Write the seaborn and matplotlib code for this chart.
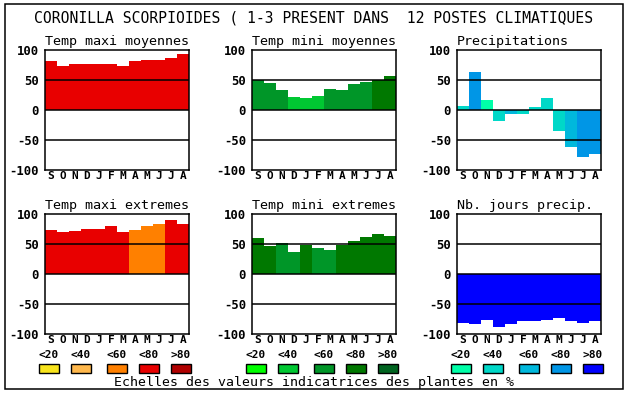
import numpy as np
import pandas as pd
import matplotlib
matplotlib.use("Agg")
import matplotlib.pyplot as plt
import seaborn as sns
from matplotlib.patches import Rectangle

# --- data ---
months = ["S", "O", "N", "D", "J", "F", "M", "A", "M", "J", "J", "A"]
class_labels = ["<20", "<40", "<60", "<80", ">80"]

reds = ["#f8e41c", "#ffb84c", "#ff8000", "#e80000", "#b00000"]
greens = ["#00ff00", "#00c832", "#009628", "#007800", "#006420"]
blues = ["#00ffa8", "#00d8c8", "#00b8dc", "#0096e6", "#0000ff"]

tmax_moy = [81, 74, 76, 76, 77, 76, 74, 81, 84, 84, 86, 93]
tmax_moy_cls = [3, 3, 3, 3, 3, 3, 3, 3, 3, 3, 3, 3]

tmin_moy = [50, 45, 34, 22, 20, 24, 35, 34, 44, 47, 50, 56]
tmin_moy_cls = [2, 2, 2, 1, 1, 1, 2, 2, 2, 2, 3, 3]

precip = [7, 64, 17, -18, -6, -6, 5, 20, -35, -62, -79, -74]
precip_cls = [1, 3, 0, 1, 2, 1, 1, 1, 1, 2, 3, 3]

tmax_ext = [74, 70, 72, 75, 75, 80, 70, 74, 80, 84, 90, 84]
tmax_ext_cls = [3, 3, 3, 3, 3, 3, 3, 2, 2, 2, 3, 3]

tmin_ext = [60, 47, 52, 37, 49, 44, 40, 49, 55, 62, 67, 64]
tmin_ext_cls = [3, 3, 2, 2, 3, 2, 2, 3, 3, 3, 3, 3]

jours = [-81, -83, -76, -88, -83, -78, -78, -76, -73, -78, -81, -78]
jours_cls = [4, 4, 4, 4, 4, 4, 4, 4, 4, 4, 4, 4]

title = "CORONILLA SCORPIOIDES ( 1-3 PRESENT DANS  12 POSTES CLIMATIQUES"
footer = "Echelles des valeurs indicatrices des plantes en %"

panels = [
    ("Temp maxi moyennes", tmax_moy, tmax_moy_cls, reds, 0, 0),
    ("Temp mini moyennes", tmin_moy, tmin_moy_cls, greens, 0, 1),
    ("Precipitations", precip, precip_cls, blues, 0, 2),
    ("Temp maxi extremes", tmax_ext, tmax_ext_cls, reds, 1, 0),
    ("Temp mini extremes", tmin_ext, tmin_ext_cls, greens, 1, 1),
    ("Nb. jours precip.", jours, jours_cls, blues, 1, 2),
]

sns.set_theme(style="white")
plt.rcParams["font.family"] = ["DejaVu Sans Mono"]

W, H = 630, 394
fig = plt.figure(figsize=(W / 100, H / 100), dpi=100)
fig.patch.set_facecolor("white")

col_left = [45, 252, 457]
row_top = [50, 214]
pw, ph = 144, 120


def px_axes(x0, y0, w, h):
    return fig.add_axes([x0 / W, 1 - (y0 + h) / H, w / W, h / H])


for name, vals, cls, pal, r, c in panels:
    ax = px_axes(col_left[c], row_top[r], pw, ph)
    df = pd.DataFrame({"pos": range(12), "val": vals})
    colors = {i: pal[k] for i, k in enumerate(cls)}
    sns.barplot(data=df, x="pos", y="val", hue="pos", palette=colors,
                width=1.0, legend=False, saturation=1, ax=ax, zorder=1)
    for p in ax.patches:
        p.set_linewidth(0)
    for yv in (50, 0, -50):
        ax.axhline(yv, color="black", lw=1.1, zorder=3)
    ax.set_xlim(-0.5, 11.5)
    ax.set_ylim(-100, 100)
    ax.set_yticks([-100, -50, 0, 50, 100])
    ax.set_yticklabels(["-100", "-50", "0", "50", "100"])
    ax.set_xticks(range(12))
    ax.set_xticklabels(months)
    ax.set_xlabel("")
    ax.set_ylabel("")
    ax.tick_params(axis="both", length=0, colors="black")
    ax.tick_params(axis="y", pad=4.3, labelsize=8.8)
    ax.tick_params(axis="x", pad=1.0, labelsize=8)
    for lab in ax.get_xticklabels() + ax.get_yticklabels():
        lab.set_fontweight("bold")
    for s in ax.spines.values():
        s.set_visible(True)
        s.set_color("black")
        s.set_linewidth(1.1)
        s.set_zorder(4)
    ax.set_title(name, loc="left", fontsize=9.6, pad=3.5, color="black")

# colour scale legends under the bottom row
leg_centers = [4, 36, 72, 104, 136]
for c, pal in enumerate([reds, greens, blues]):
    lax = px_axes(col_left[c], 346, pw, 30)
    lax.set_xlim(0, 144)
    lax.set_ylim(30, 0)
    lax.axis("off")
    lax.bar(leg_centers, [9] * 5, bottom=[18] * 5, width=20, color=pal,
            edgecolor="black", linewidth=1, clip_on=False)
    for xc, lab in zip(leg_centers, class_labels):
        lax.text(xc, 9, lab, ha="center", va="center", fontsize=8,
                 fontweight="bold", color="black", clip_on=False)

fig.text(314 / W, 1 - 18 / H, title, ha="center", va="center",
         fontsize=10.6, color="black")
fig.text(314 / W, 1 - 382.5 / H, footer, ha="center", va="center",
         fontsize=9.5, color="black")

fig.patches.append(Rectangle((5 / W, 1 - 389 / H), 618 / W, 385 / H,
                             transform=fig.transFigure, fill=False,
                             edgecolor="black", linewidth=1.1))

fig.savefig("out.png", dpi=100, facecolor="white")
